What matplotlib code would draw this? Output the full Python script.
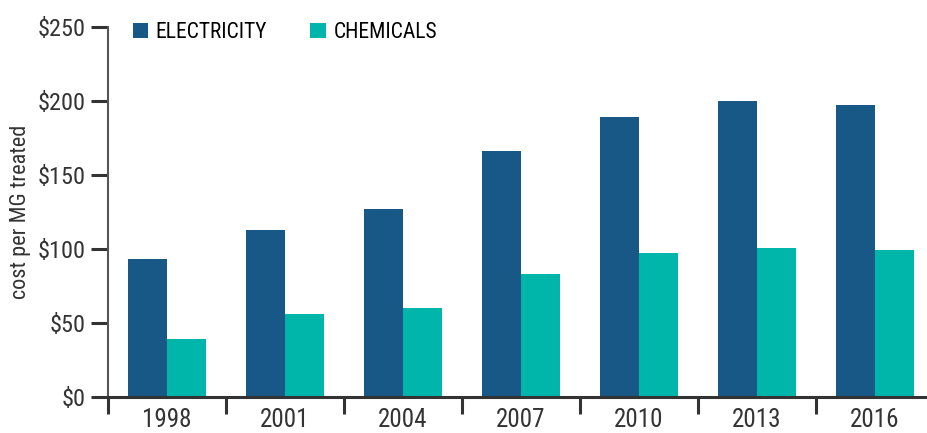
import matplotlib.pyplot as plt
import numpy as np

plt.rcParams['font.family'] = ['Roboto Condensed', 'Liberation Sans Narrow', 'DejaVu Sans Condensed',
                               'Roboto', 'DejaVu Sans']
plt.rcParams['font.stretch'] = 'condensed'

years = ['1998', '2001', '2004', '2007', '2010', '2013', '2016']
electricity = [93, 113, 127, 166, 189, 200, 197]
chemicals = [39, 56, 60, 83, 97, 101, 99]

elec_color = '#175886'
chem_color = '#00b5a9'
text_color = '#333333'

fig = plt.figure(figsize=(9.28, 4.33), dpi=100)
# axis runs a bit past the right edge of the picture, like the original
ax = fig.add_axes([108 / 928, 36 / 433, 826 / 928, 370 / 433])

x = np.arange(len(years))
w = 0.33
ax.bar(x - w / 2, electricity, w, color=elec_color, label='ELECTRICITY')
ax.bar(x + w / 2, chemicals, w, color=chem_color, label='CHEMICALS')

ax.set_xlim(-0.5, len(years) - 0.5)
ax.set_ylim(0, 250)

for s in ['top', 'right']:
    ax.spines[s].set_visible(False)
ax.spines['left'].set_color('#555555')
ax.spines['left'].set_linewidth(1.5)
ax.spines['bottom'].set_color(text_color)
ax.spines['bottom'].set_linewidth(2.2)

ax.set_yticks(np.arange(0, 251, 50))
ax.set_yticklabels(['$%d' % v for v in range(0, 251, 50)])
ax.tick_params(axis='y', length=12, width=2.2, color=text_color,
               labelsize=17.5, labelcolor=text_color, pad=4)

# group boundaries as major ticks, years as minor labels
ax.set_xticks(np.arange(-0.5, len(years), 1))
ax.set_xticklabels([])
ax.set_xticks(x, minor=True)
ax.set_xticklabels(years, minor=True)
ax.tick_params(axis='x', which='major', length=12, width=2.2, color=text_color)
ax.tick_params(axis='x', which='minor', length=0, labelsize=18,
               labelcolor=text_color, pad=8)

ax.set_ylabel('cost per MG treated', fontsize=16, color=text_color)
ax.yaxis.set_label_coords(-0.093, 0.5)

ax.legend(loc='center left', bbox_to_anchor=(0.03, 0.985), ncol=2, frameon=False,
          fontsize=15.5, handlelength=0.72, handleheight=0.72, handletextpad=0.35,
          columnspacing=2.0, borderaxespad=0, borderpad=0)

fig.savefig('out.png', dpi=100)
